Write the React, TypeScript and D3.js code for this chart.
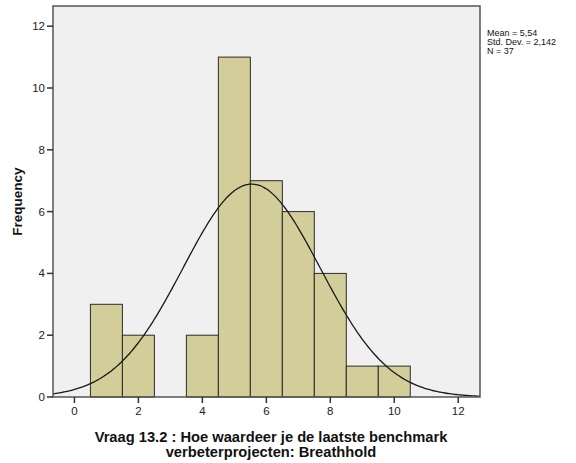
import React from "react";
import * as d3 from "d3";

const binCenters = [1, 2, 3, 4, 5, 6, 7, 8, 9, 10];
const frequencies = [3, 2, 0, 2, 11, 7, 6, 4, 1, 1];
const xTicks = [0, 2, 4, 6, 8, 10, 12];
const yTicks = [0, 2, 4, 6, 8, 10, 12];
const mean = 5.54;
const sd = 2.142;
const n = 37;
const statLines = ["Mean = 5,54", "Std. Dev. = 2,142", "N = 37"];
const titleLines = ["Vraag 13.2 : Hoe waardeer je de laatste benchmark", "verbeterprojecten: Breathhold"];

export default function App() {
  const W = 576, H = 463;
  const left = 53, right = 480, top = 6, bottom = 397;
  const x = d3.scaleLinear().domain([-0.67, 12.68]).range([left, right]);
  const y = d3.scaleLinear().domain([0, 12]).range([bottom, bottom - 12 * 30.9]);
  const font = "Arial, 'Liberation Sans', sans-serif";
  const curvePts = d3.range(-0.67, 12.681, 0.05).map((v) => [v, (n / sd) * Math.exp(-0.5 * ((v - mean) / sd) ** 2) / Math.sqrt(2 * Math.PI)] as [number, number]);
  const line = d3.line<[number, number]>().x((d) => x(d[0])).y((d) => y(d[1])).curve(d3.curveBasis);
  return (
    <svg width={W} height={H} style={{ position: "absolute", left: 0, top: 0 }} fontFamily={font}>
      <rect x={left} y={top} width={right - left} height={bottom - top} fill="#F0F0F0" />
      {binCenters.map((c, i) =>
        frequencies[i] > 0 ? (
          <rect key={c} x={x(c - 0.5)} y={y(frequencies[i])} width={x(c + 0.5) - x(c - 0.5)} height={bottom - y(frequencies[i])} fill="#D3CE99" stroke="#2b2b2b" strokeWidth={1} />
        ) : null
      )}
      <path d={line(curvePts) || ""} fill="none" stroke="#1a1a1a" strokeWidth={1.3} />
      <rect x={left} y={top} width={right - left} height={bottom - top} fill="none" stroke="#555" strokeWidth={1.5} />
      {yTicks.map((t) => (
        <g key={t}>
          <line x1={left - 6} x2={left} y1={y(t)} y2={y(t)} stroke="#333" strokeWidth={1.5} />
          <text x={left - 8} y={y(t) + 4} textAnchor="end" fontSize={11.5} fill="#222">{t}</text>
        </g>
      ))}
      {xTicks.map((t) => (
        <g key={t}>
          <line x1={x(t)} x2={x(t)} y1={bottom} y2={bottom + 6} stroke="#333" strokeWidth={1.5} />
          <text x={x(t)} y={bottom + 18} textAnchor="middle" fontSize={11.5} fill="#222">{t}</text>
        </g>
      ))}
      <text transform={`translate(22,${(top + bottom) / 2}) rotate(-90)`} textAnchor="middle" fontSize={13.5} fontWeight="bold" fill="#111">Frequency</text>
      {titleLines.map((s, i) => (
        <text key={i} x={271} y={442 + i * 14.5} textAnchor="middle" fontSize={14.7} fontWeight="bold" fill="#111">{s}</text>
      ))}
      {statLines.map((s, i) => (
        <text key={i} x={487} y={36 + i * 9} fontSize={9} fill="#111">{s}</text>
      ))}
    </svg>
  );
}
